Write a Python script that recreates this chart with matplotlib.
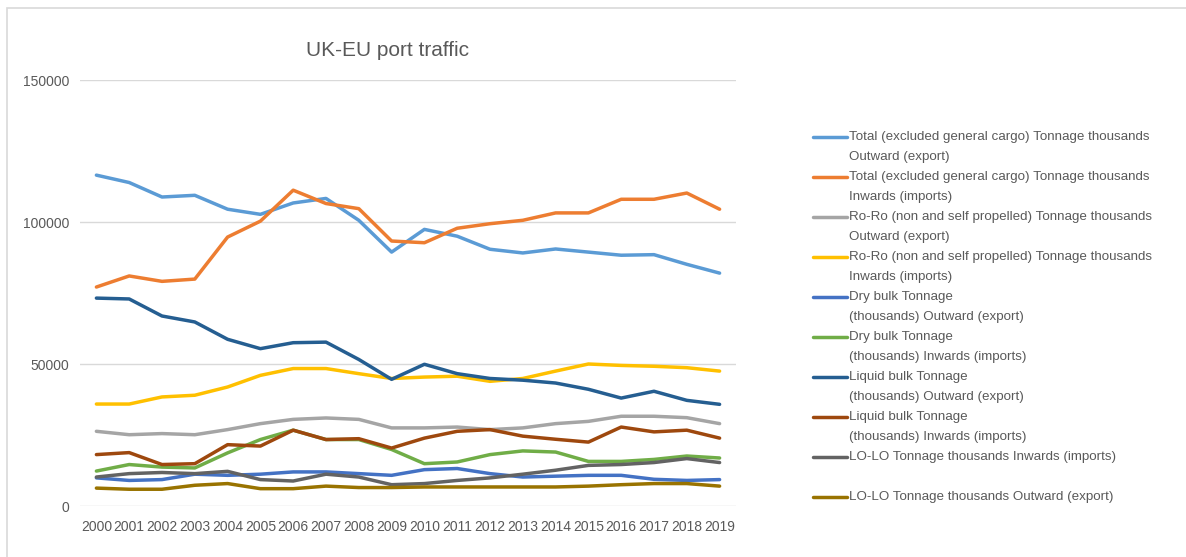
import matplotlib
matplotlib.use("Agg")
import matplotlib.pyplot as plt
from matplotlib.lines import Line2D
from matplotlib.patches import Rectangle

years = [str(y) for y in range(2000, 2020)]

total_out = [116500, 113900, 108800, 109400, 104500, 102700, 106700, 108300, 100600, 89400,
             97400, 95000, 90400, 89100, 90500, 89400, 88300, 88500, 85100, 82000]
total_in = [77100, 81000, 79100, 79900, 94700, 100300, 111200, 106500, 104700, 93300,
            92700, 97800, 99400, 100600, 103200, 103200, 108000, 108000, 110200, 104500]
roro_out = [26300, 25100, 25500, 25100, 26900, 29000, 30500, 31000, 30500, 27500,
            27500, 27800, 26900, 27500, 29000, 29800, 31600, 31600, 31100, 29000]
roro_in = [35900, 35900, 38400, 39000, 41900, 46000, 48400, 48400, 46600, 44900,
           45400, 45700, 43900, 44900, 47500, 50000, 49500, 49200, 48700, 47500]
dry_out = [9900, 9000, 9300, 11200, 10800, 11200, 12000, 12000, 11400, 10800,
           12800, 13200, 11400, 10200, 10500, 10800, 10800, 9400, 9000, 9300]
dry_in = [12300, 14600, 13700, 13400, 18700, 23400, 26700, 23400, 23400, 19900,
          14900, 15500, 18100, 19400, 19000, 15700, 15700, 16400, 17600, 16900]
liquid_out = [73200, 72900, 66900, 64800, 58700, 55400, 57500, 57700, 51600, 44600,
              49900, 46600, 44900, 44300, 43300, 41100, 38000, 40400, 37200, 35800]
liquid_in = [18100, 18800, 14600, 14900, 21600, 21100, 26700, 23400, 23700, 20400,
             23900, 26300, 26900, 24600, 23500, 22500, 27800, 26100, 26700, 23900]
lolo_in = [10200, 11400, 11800, 11400, 12200, 9300, 8800, 11200, 10200, 7500,
           7900, 9000, 9900, 11200, 12600, 14300, 14600, 15300, 16700, 15300]
lolo_out = [6300, 5900, 5900, 7300, 7900, 6100, 6100, 7000, 6500, 6500,
            6700, 6700, 6700, 6700, 6700, 7000, 7500, 7900, 7900, 7000]

labels = [
    "Total (excluded general cargo) Tonnage thousands\nOutward (export)",
    "Total (excluded general cargo) Tonnage thousands\nInwards (imports)",
    "Ro-Ro (non and self propelled) Tonnage thousands\nOutward (export)",
    "Ro-Ro (non and self propelled) Tonnage thousands\nInwards (imports)",
    "Dry bulk Tonnage\n(thousands) Outward (export)",
    "Dry bulk Tonnage\n(thousands) Inwards (imports)",
    "Liquid bulk Tonnage\n(thousands) Outward (export)",
    "Liquid bulk Tonnage\n(thousands) Inwards (imports)",
    "LO-LO Tonnage thousands Inwards (imports)",
    "LO-LO Tonnage thousands Outward (export)",
]
series = [total_out, total_in, roro_out, roro_in, dry_out, dry_in,
          liquid_out, liquid_in, lolo_in, lolo_out]
colors = ["#5B9BD5", "#ED7D31", "#A5A5A5", "#FFC000", "#4472C4", "#70AD47",
          "#255E91", "#9E480E", "#636363", "#997300"]

plt.rcParams['font.family'] = ['Liberation Sans', 'DejaVu Sans']
txt = "#595959"

W, H = 1186, 557
fig = plt.figure(figsize=(W / 100, H / 100), dpi=100)

# chart border
fig.add_artist(Rectangle((7 / W, -0.05), 1.2, 1 - 8 / H + 0.05, transform=fig.transFigure,
                         fill=False, edgecolor="#D9D9D9", linewidth=1.2))

ax = fig.add_axes([80 / W, (H - 506) / H, 656 / W, 426 / H])
x = list(range(len(years)))
for s, c in zip(series, colors):
    ax.plot(x, s, color=c, linewidth=2.5, solid_capstyle='round', solid_joinstyle='round')

ax.set_xlim(-0.5, len(years) - 0.5)
ax.set_ylim(0, 150000)
ax.set_yticks([0, 50000, 100000, 150000])
ax.set_yticklabels(["0", "50000", "100000", "150000"])
ax.set_xticks(x)
ax.set_xticklabels(years)
ax.grid(axis='y', color="#D9D9D9", linewidth=1)
ax.set_axisbelow(True)
for sp in ax.spines.values():
    sp.set_visible(False)
ax.tick_params(axis='both', length=0, colors=txt, labelsize=10)
ax.tick_params(axis='y', pad=8)
ax.tick_params(axis='x', pad=10)

fig.text(387 / W, 1 - 50 / H, "UK-EU port traffic", ha='center', va='center',
         fontsize=15, color=txt)

# legend
row_y = [137, 177, 217, 257, 297, 337, 377, 417, 457, 497]
for yy, lab, c in zip(row_y, labels, colors):
    fig.add_artist(Line2D([813 / W, 847 / W], [1 - yy / H, 1 - yy / H],
                          transform=fig.transFigure, color=c, linewidth=2.5,
                          solid_capstyle='round'))
    for i, line in enumerate(lab.split("\n")):
        fig.text(849 / W, 1 - (yy + 20 * i) / H, line, ha='left', va='center',
                 fontsize=9.6, color=txt)

fig.savefig("out.png", dpi=100)
